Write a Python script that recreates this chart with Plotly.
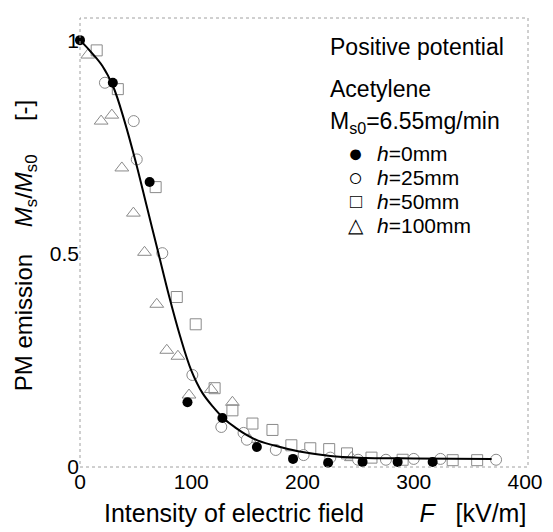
import plotly.graph_objects as go

# ---- data ----
h0_x = [0, 29.5, 62.6, 96.6, 128, 159, 191.5, 223, 254, 285.5, 317]
h0_y = [1.0, 0.90, 0.667, 0.15, 0.113, 0.045, 0.017, 0.008, 0.01, 0.01, 0.01]

h25_x = [22.4, 48.3, 51, 74, 101, 127, 147, 150, 176, 201, 225, 250, 275, 300, 324, 374]
h25_y = [0.90, 0.81, 0.72, 0.50, 0.214, 0.092, 0.078, 0.062, 0.038, 0.026, 0.02, 0.015, 0.015, 0.017, 0.017, 0.015]

h50_x = [15, 34, 68, 87, 104, 121, 137, 155, 173, 190, 207, 224, 240, 262, 290, 335, 357]
h50_y = [0.976, 0.885, 0.655, 0.397, 0.333, 0.183, 0.131, 0.10, 0.085, 0.049, 0.042, 0.04, 0.03, 0.02, 0.015, 0.014, 0.014]

h100_x = [7, 19, 28.6, 37.6, 48, 58, 69, 78, 88, 98, 118, 137, 152, 244]
h100_y = [0.965, 0.81, 0.824, 0.70, 0.594, 0.502, 0.38, 0.272, 0.258, 0.167, 0.18, 0.15, 0.063, 0.02]

fit_x = [0, 10, 20, 30, 40, 50, 60, 70, 80, 90, 100, 110, 120, 130, 140, 150, 160, 180, 200, 225, 250, 300, 370]
fit_y = [1.0, 0.972, 0.94, 0.89, 0.81, 0.715, 0.61, 0.505, 0.40, 0.305, 0.225, 0.172, 0.138, 0.11, 0.09,
         0.073, 0.06, 0.045, 0.033, 0.024, 0.02, 0.018, 0.017]

x_ticks = [0, 100, 200, 300, 400]
y_ticks = [0, 0.5, 1]
y_tick_text = ["0", "0.5", "1"]

FONT = "Liberation Sans, Arial, sans-serif"
GRAY = "#8a8a8a"

fig = go.Figure()

fig.add_trace(go.Scatter(x=h50_x, y=h50_y, mode="markers", cliponaxis=False,
                         marker=dict(symbol="square-open", size=11, color=GRAY, line=dict(width=1))))
fig.add_trace(go.Scatter(x=h100_x, y=h100_y, mode="markers", cliponaxis=False,
                         marker=dict(symbol="triangle-up-open", size=12, color=GRAY, line=dict(width=1))))
fig.add_trace(go.Scatter(x=h25_x, y=h25_y, mode="markers", cliponaxis=False,
                         marker=dict(symbol="circle", size=11, color="white", line=dict(width=1, color=GRAY))))
fig.add_trace(go.Scatter(x=fit_x, y=fit_y, mode="lines", line=dict(color="black", width=2, shape="spline"),
                         cliponaxis=False))
fig.add_trace(go.Scatter(x=h0_x, y=h0_y, mode="markers", cliponaxis=False,
                         marker=dict(symbol="circle", size=10, color="black")))

# page body adds an 8px offset; compensate so the plot lands where the reference has it
OFF = 8
L, R, T, B = 80 - OFF, 23, 18 - OFF, 65
W, H = 553 - OFF, 532 - OFF
pw, ph = W - L - R, H - T - B

def px(xp):
    return (xp - OFF - L) / pw

def py(yp):
    return (H - B - (yp - OFF)) / ph

ann = []
ann.append(dict(x=px(329), y=py(47), text="Positive potential", font=dict(size=23)))
ann.append(dict(x=px(329), y=py(89), text="Acetylene", font=dict(size=23)))
ann.append(dict(x=px(329), y=py(122), text="M<sub>s0</sub>=6.55mg/min", font=dict(size=23)))
legend_items = [("●", 25, "<i>h</i>=0mm"), ("○", 25, "<i>h</i>=25mm"),
                ("□", 20, "<i>h</i>=50mm"), ("△", 20, "<i>h</i>=100mm")]
for i, (sym, fs, lab) in enumerate(legend_items):
    ann.append(dict(x=px(357), y=py(153 + 24 * i), xanchor="center",
                    text="<span style='font-size:%dpx'>%s</span>" % (fs, sym), font=dict(size=20)))
    ann.append(dict(x=px(376), y=py(153 + 24 * i), text=lab, font=dict(size=21)))
for a in ann:
    a.setdefault("xanchor", "left")
    a.update(xref="paper", yref="paper", yanchor="middle", showarrow=False)
    a["font"].update(family=FONT, color="black")

SP = "&nbsp;"
ann.append(dict(x=px(316), y=py(513), xref="paper", yref="paper", showarrow=False,
                xanchor="center", yanchor="middle",
                text="Intensity of electric field" + SP * 8 + "<i>F</i>" + SP * 3 + "[kV/m]",
                font=dict(family=FONT, size=25, color="black")))
ann.append(dict(x=px(25), y=py(245), xref="paper", yref="paper", showarrow=False, textangle=-90,
                xanchor="center", yanchor="middle",
                text="PM emission" + SP * 4 + "<i>M</i><sub>s</sub>/<i>M</i><sub>s0</sub>" + SP * 5 + "[-]",
                font=dict(family=FONT, size=24, color="black")))

fig.update_layout(
    width=W, height=H,
    margin=dict(l=L, r=R, t=T, b=B),
    paper_bgcolor="white", plot_bgcolor="white",
    showlegend=False,
    font=dict(family=FONT, color="black"),
    annotations=ann,
    shapes=[dict(type="rect", xref="paper", yref="paper", x0=0, y0=0, x1=1, y1=1,
                 line=dict(color="#a0a0a0", width=1, dash="dot"))],
)
fig.update_xaxes(range=[0, 402.7], tickvals=x_ticks, showgrid=False, zeroline=False,
                 showline=False, ticks="", tickfont=dict(size=21))
fig.update_yaxes(range=[-0.002, 1.052], tickvals=y_ticks, ticktext=y_tick_text, showgrid=False,
                 zeroline=False, showline=False, ticks="", tickfont=dict(size=21))

fig.write_html("out.html")
